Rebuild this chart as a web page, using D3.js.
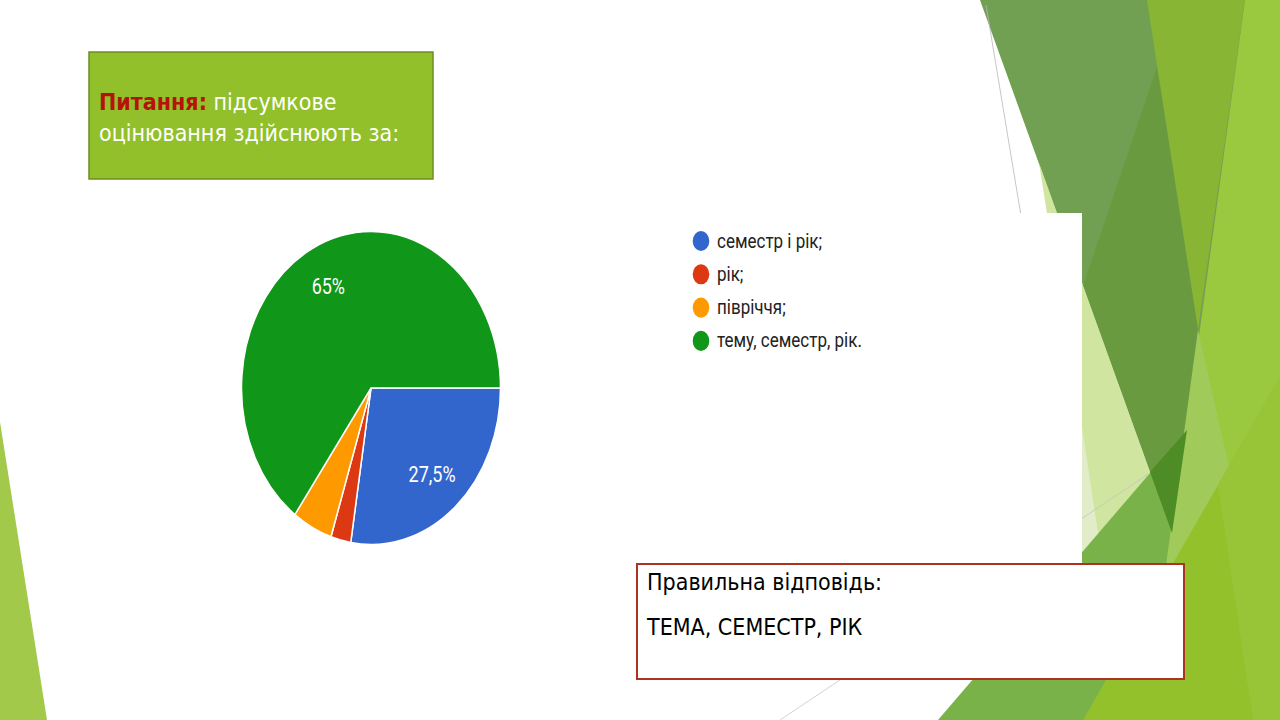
<!DOCTYPE html>
<html><head><meta charset="utf-8">
<script src="https://cdn.jsdelivr.net/npm/d3@7"></script>
<style>html,body{margin:0;padding:0;background:#fff;overflow:hidden}</style>
</head><body>
<svg id="s" width="1280" height="720"></svg>
<script>
// ---- data ----
const categories = ["семестр і рік;", "рік;", "півріччя;", "тему, семестр, рік."];
const values = [27.5, 2.5, 5, 65];
const colors = ["#3366cc", "#dc3912", "#ff9900", "#109618"];
const titleBold = "Питання:";
const titleLines = [" підсумкове", "оцінювання здійснюють за:"];
const answerLines = ["Правильна відповідь:", "ТЕМА, СЕМЕСТР, РІК"];

const svg = d3.select("#s");
const line = d3.line();

// ---- decorative background (slide theme) ----
const deco = [
  {c:"#a2c94a", p:[[0,422],[47,720],[0,720]]},
  {c:"#9ac83e", p:[[1147,0],[1280,0],[1280,720],[1253,720]]},
  {c:"#72a052", p:[[980,0],[1245,0],[1172,533]]},
  {c:"#88b534", p:[[1147,0],[1245,0],[1198,330]]},
  {c:"#6a9a40", p:[[1157,67],[1198,330],[1172,533],[1083,286]]},
  {c:"#cfe5a0", p:[[1039,163],[1172,533],[1102,560]]},
  {c:"#e0edc8", p:[[1075,380],[1102,560],[1082,565]]},
  {c:"#7ab24a", p:[[938,720],[1187,430],[1166,575],[1085,720]]},
  {c:"#a0cb5a", p:[[1198,330],[1232,480],[1170,610],[1164,580]]},
  {c:"#4e8c26", p:[[1150,472],[1187,430],[1172,533]]},
  {c:"#92c12c", p:[[1280,377],[1280,720],[1083,720]]},
  {c:"#97c537", p:[[1218,485],[1280,377],[1280,720],[1253,720]]}
];
svg.selectAll("path.deco").data(deco).join("path")
  .attr("class","deco").attr("d", d => line(d.p) + "Z").attr("fill", d => d.c);
svg.append("line").attr("x1",986).attr("y1",5).attr("x2",1040).attr("y2",330)
  .attr("stroke","#b8b8b8").attr("stroke-width",0.8);
svg.append("line").attr("x1",780).attr("y1",720).attr("x2",1150).attr("y2",473)
  .attr("stroke","#c4c4c4").attr("stroke-width",0.8);

// chart image background
svg.append("rect").attr("x",180).attr("y",213).attr("width",902).attr("height",407).attr("fill","#fff");

// ---- pie chart ----
const sy = 1.208, R = 129.5;
const g = svg.append("g").attr("transform", `translate(371,388) scale(1,${sy})`);
const pie = d3.pie().sort(null).value(d => d)
  .startAngle(Math.PI/2).endAngle(Math.PI/2 + 2*Math.PI);
const arcs = pie(values);
const arc = d3.arc().innerRadius(0).outerRadius(R);
const labelArc = d3.arc().innerRadius(94).outerRadius(94);
g.selectAll("path.slice").data(arcs).join("path")
  .attr("class","slice").attr("d", arc)
  .attr("fill", (d,i) => colors[i])
  .attr("stroke","#fff").attr("stroke-width",1.5).attr("vector-effect","non-scaling-stroke");
g.selectAll("text.lbl").data(arcs.filter(d => d.data >= 10)).join("text")
  .attr("class","lbl")
  .attr("transform", d => `translate(${labelArc.centroid(d)})`)
  .attr("text-anchor","middle").attr("dominant-baseline","central")
  .attr("font-family","Roboto, Arial, sans-serif").attr("font-size",18)
  .attr("fill","#fff")
  .text(d => String(d.data).replace(".", ",") + "%");

// ---- legend ----
const lg = svg.append("g").attr("transform", `translate(701,241) scale(1,${sy})`);
const li = lg.selectAll("g").data(categories).join("g")
  .attr("transform", (d,i) => `translate(0,${i*33.3/sy})`);
li.append("circle").attr("r",8.3).attr("fill",(d,i) => colors[i]);
li.append("text").attr("x",16).attr("dominant-baseline","central")
  .attr("font-family","Roboto, Arial, sans-serif").attr("font-size",17)
  .attr("fill","#222").text(d => d);

// ---- question box ----
svg.append("rect").attr("x",89).attr("y",52).attr("width",344).attr("height",127)
  .attr("fill","#92c02a").attr("stroke","#6b8e23").attr("stroke-width",1.5);
const qf = "'DejaVu Sans Condensed','DejaVu Sans',sans-serif";
const t1 = svg.append("text").attr("x",99).attr("y",110)
  .attr("font-family",qf).attr("font-stretch","condensed").attr("font-size",23);
t1.append("tspan").attr("fill","#b5120a").attr("font-weight","bold").text(titleBold);
t1.append("tspan").attr("fill","#fff").text(titleLines[0]);
svg.append("text").attr("x",99).attr("y",141)
  .attr("font-family",qf).attr("font-stretch","condensed").attr("font-size",23)
  .attr("fill","#fff").text(titleLines[1]);

// ---- answer box ----
svg.append("rect").attr("x",637).attr("y",564).attr("width",547).attr("height",115)
  .attr("fill","#fff").attr("stroke","#ad3224").attr("stroke-width",2);
svg.selectAll("text.ans").data(answerLines).join("text").attr("class","ans")
  .attr("x",647).attr("y",(d,i) => 590 + i*45)
  .attr("font-family",qf).attr("font-stretch","condensed").attr("font-size",23)
  .attr("fill","#000").text(d => d);
</script>
</body></html>
